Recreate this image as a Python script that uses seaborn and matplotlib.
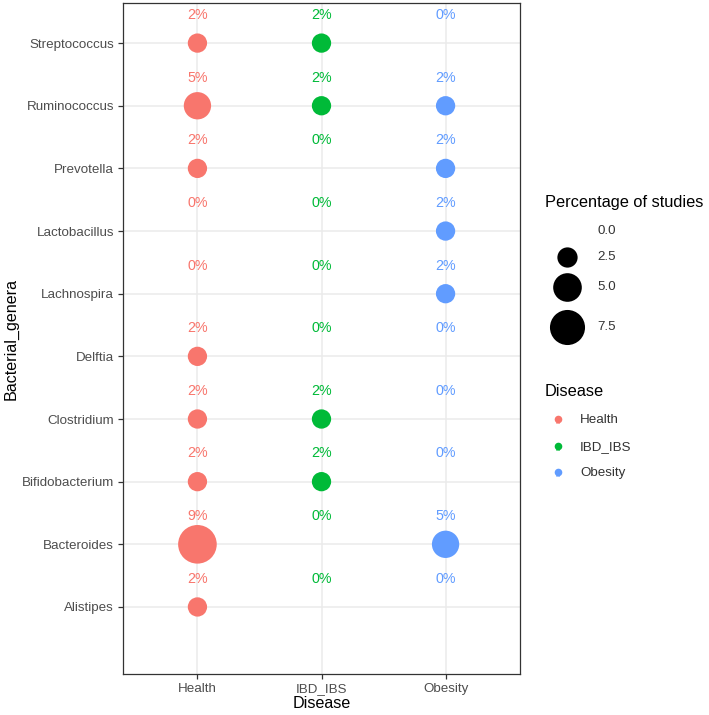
import numpy as np
import pandas as pd
import seaborn as sns
import matplotlib.pyplot as plt

plt.rcParams["font.family"] = ["Liberation Sans", "DejaVu Sans"]

# genera listed bottom -> top on the y axis
genera = ["Alistipes", "Bacteroides", "Bifidobacterium", "Clostridium", "Delftia",
          "Lachnospira", "Lactobacillus", "Prevotella", "Ruminococcus", "Streptococcus"]
diseases = ["Health", "IBD_IBS", "Obesity"]

# percentage of studies (same order as genera)
health = [2.27, 9.09, 2.27, 2.27, 2.27, 0.0, 0.0, 2.27, 4.55, 2.27]
ibd_ibs = [0.0, 0.0, 2.27, 2.27, 0.0, 0.0, 0.0, 0.0, 2.27, 2.27]
obesity = [0.0, 4.55, 0.0, 0.0, 0.0, 2.27, 2.27, 2.27, 2.27, 0.0]

palette = {"Health": "#F8766D", "IBD_IBS": "#00BA38", "Obesity": "#619CFF"}
legend_sizes = [0.0, 2.5, 5.0, 7.5]

rows = []
for d, vals in zip(diseases, [health, ibd_ibs, obesity]):
    for g, v in zip(genera, vals):
        rows.append({"Bacterial_genera": g, "Disease": d, "pct": v})
df = pd.DataFrame(rows)
df["xpos"] = df["Disease"].map({d: i for i, d in enumerate(diseases)})
df["ypos"] = df["Bacterial_genera"].map({g: i for i, g in enumerate(genera)})

k = 85  # marker area (pt^2) per percent
fig = plt.figure(figsize=(7.09, 7.15), dpi=100)
ax = fig.add_axes([123 / 709, 1 - 674 / 715, (520 - 123) / 709, (674 - 3) / 715])

sns.scatterplot(data=df, x="xpos", y="ypos", hue="Disease", palette=palette,
                size="pct", sizes=(0, k * 10), size_norm=(0, 10),
                linewidth=0, legend=False, ax=ax, zorder=3)

# percent labels above each cell
for _, r in df.iterrows():
    ax.text(r["xpos"], r["ypos"] + 0.45, f"{r['pct']:.0f}%", color=palette[r["Disease"]],
            ha="center", va="center", fontsize=10.3, zorder=4)

ax.set_xlim(-0.6, 2.6)
ax.set_ylim(-1.07, len(genera) - 1 + 0.64)
ax.set_xticks(range(len(diseases)))
ax.set_xticklabels(diseases)
ax.set_yticks(range(len(genera)))
ax.set_yticklabels(genera)
ax.grid(True, color="#EBEBEB", linewidth=1.1, zorder=0)
ax.set_axisbelow(True)
for s in ax.spines.values():
    s.set_color("#333333")
    s.set_linewidth(0.9)
ax.tick_params(colors="#333333", labelcolor="#4D4D4D", labelsize=9.6, length=3.5, width=0.9, pad=3)
ax.set_xlabel("Disease", fontsize=11.6)
ax.set_ylabel("Bacterial_genera", fontsize=11.6)
ax.xaxis.labelpad = 1
ax.yaxis.labelpad = 2

# legends drawn in figure pixel space, ggplot-style
lax = fig.add_axes([0, 0, 1, 1], zorder=5)
lax.set_xlim(0, 709)
lax.set_ylim(715, 0)
lax.axis("off")
lax.text(545, 202, "Percentage of studies", fontsize=11.8, va="center", ha="left")
for v, y in zip(legend_sizes, [231, 257, 287, 327]):
    if v > 0:
        lax.scatter([567], [y], s=k * v, color="black", linewidth=0)
    lax.text(597, y, f"{v:.1f}", fontsize=9.6, va="center", color="#333333")
lax.text(545, 392, "Disease", fontsize=11.8, va="center", ha="left")
for d, y in zip(diseases, [420, 447, 473]):
    lax.scatter([558], [y - 1], s=30, color=palette[d], linewidth=0)
    lax.text(558, y + 2.5, "a", fontsize=5, color=palette[d], ha="center", va="center")
    lax.text(580, y, d, fontsize=9.6, va="center", color="#333333")

fig.savefig("out.png", dpi=100)
